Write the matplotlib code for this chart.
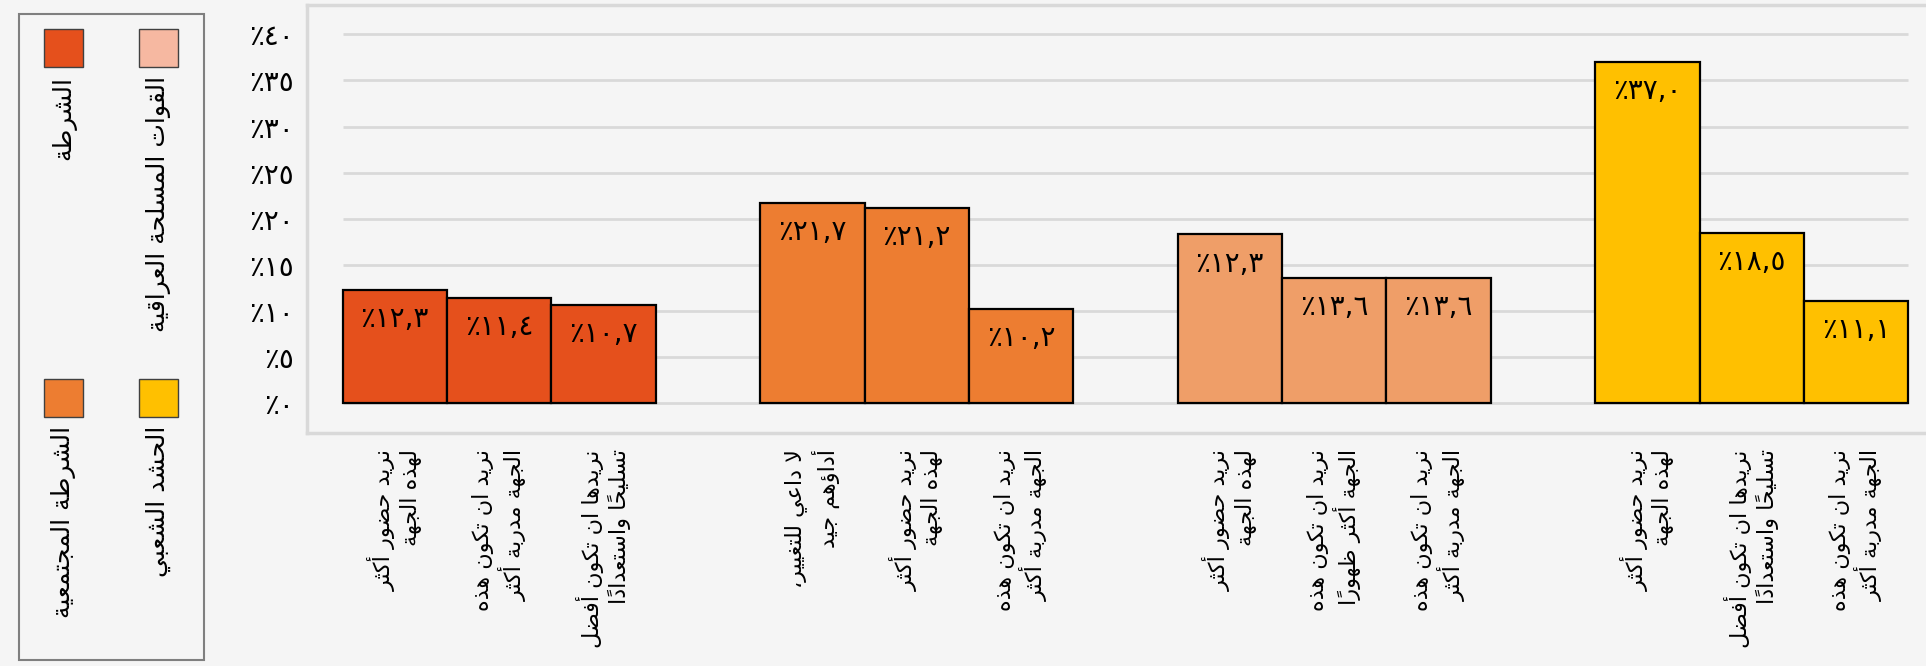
import numpy as np
import matplotlib
matplotlib.use("Agg")
import matplotlib.pyplot as plt
from matplotlib.patches import Rectangle
from matplotlib.ticker import FuncFormatter

# ---- data ----
groups = ["الشرطة", "الشرطة المجتمعية", "القوات المسلحة العراقية", "الحشد الشعبي"]
bar_colors = ["#E5501C", "#ED7D31", "#EF9E68", "#FFC000"]
legend_colors = ["#E5501C", "#ED7D31", "#F6B8A1", "#FFC000"]

police_vals = [12.3, 11.4, 10.7]
community_vals = [21.7, 21.2, 10.2]
army_vals = [18.3, 13.6, 13.6]
pmf_vals = [37.0, 18.5, 11.1]

# printed labels (the first army bar is printed as 12.3 in the source)
police_lbl = [12.3, 11.4, 10.7]
community_lbl = [21.7, 21.2, 10.2]
army_lbl = [12.3, 13.6, 13.6]
pmf_lbl = [37.0, 18.5, 11.1]

police_cats = ["نريد حضور أكثر\nلهذه الجهة",
               "نريد ان تكون هذه\nالجهة مدربة أكثر",
               "نريدها ان تكون أفضل\nتسليحاً واستعداداً"]
community_cats = ["لا داعي للتغيير،\nأداؤهم جيد",
                  "نريد حضور أكثر\nلهذه الجهة",
                  "نريد ان تكون هذه\nالجهة مدربة أكثر"]
army_cats = ["نريد حضور أكثر\nلهذه الجهة",
             "نريد ان تكون هذه\nالجهة أكثر ظهوراً",
             "نريد ان تكون هذه\nالجهة مدربة أكثر"]
pmf_cats = ["نريد حضور أكثر\nلهذه الجهة",
            "نريدها ان تكون أفضل\nتسليحاً واستعداداً",
            "نريد ان تكون هذه\nالجهة مدربة أكثر"]

y_ticks = [0, 5, 10, 15, 20, 25, 30, 35, 40]

# ---- minimal arabic shaping (matplotlib has no bidi / joining) ----
_LETTERS = "ءآأؤإئابةتثجحخدذرزسشصضطظعغفقكلمنهوىي"
_NFORMS = [1, 2, 2, 2, 2, 4, 2, 4, 2, 4, 4, 4, 4, 4, 2, 2, 2, 2,
           4, 4, 4, 4, 4, 4, 4, 4, 4, 4, 4, 4, 4, 4, 4, 2, 2, 4]
FORMS = {}
_code = 0xFE80
for _ch, _n in zip(_LETTERS, _NFORMS):
    FORMS[_ch] = [chr(_code + k) for k in range(_n)]
    _code += _n
LAM_ALEF = {"آ": 0xFEF5, "أ": 0xFEF7, "إ": 0xFEF9, "ا": 0xFEFB}


def is_mark(c):
    return "\u064B" <= c <= "\u0652" or c == "\u0670"


def jtype(base):
    if len(base) == 2:  # lam-alef
        return "R"
    f = FORMS.get(base)
    if f is None or len(f) == 1:
        return "U"
    return "D" if len(f) == 4 else "R"


def shape_line(line):
    clusters = []
    for c in line:
        if is_mark(c) and clusters:
            clusters[-1][1] += c
        else:
            clusters.append([c, ""])
    merged = []
    i = 0
    while i < len(clusters):
        b, m = clusters[i]
        if b == "ل" and i + 1 < len(clusters) and clusters[i + 1][0] in LAM_ALEF:
            merged.append(["ل" + clusters[i + 1][0], m + clusters[i + 1][1]])
            i += 2
        else:
            merged.append([b, m])
            i += 1
    types = [jtype(b) for b, _ in merged]
    out = []
    for k, (b, m) in enumerate(merged):
        t = types[k]
        prev_j = k > 0 and types[k - 1] == "D"
        next_j = k + 1 < len(merged) and types[k + 1] in ("D", "R")
        if t == "U":
            g = b
        elif len(b) == 2:
            g = chr(LAM_ALEF[b[1]] + (1 if prev_j else 0))
        elif t == "R":
            g = FORMS[b][1 if prev_j else 0]
        else:
            if prev_j and next_j:
                g = FORMS[b][3]
            elif prev_j:
                g = FORMS[b][1]
            elif next_j:
                g = FORMS[b][2]
            else:
                g = FORMS[b][0]
        out.append(g + m)
    return "".join(out[::-1])


def ar(text):
    return "\n".join(shape_line(l) for l in text.split("\n"))


AR_DIGITS = str.maketrans("0123456789", "٠١٢٣٤٥٦٧٨٩")


def pct(v, dec=1):
    return "٪" + f"{v:.{dec}f}".replace(".", ",").translate(AR_DIGITS)


# ---- plot ----
plt.rcParams['font.family'] = ['DejaVu Sans']
bg = "#F5F5F5"
fig = plt.figure(figsize=(19.26, 6.66), dpi=100, facecolor=bg)
ax = fig.add_axes([0.1592, 0.3503, 0.8408, 0.6422], facecolor=bg)

all_vals = [police_vals, community_vals, army_vals, pmf_vals]
all_lbls = [police_lbl, community_lbl, army_lbl, pmf_lbl]
all_cats = [police_cats, community_cats, army_cats, pmf_cats]

ax.hlines(y_ticks, -0.5, 14.5, colors="#D9D9D9", linewidth=2, zorder=0)

xpos = []
xlabels = []
for g in range(4):
    x = np.arange(3) + g * 4
    bars = ax.bar(x, all_vals[g], width=1.0, color=bar_colors[g],
                  edgecolor="black", linewidth=1.6, zorder=2)
    for b, lv in zip(bars, all_lbls[g]):
        ax.annotate(pct(lv), (b.get_x() + b.get_width() / 2, b.get_height()),
                    xytext=(0, -21), textcoords="offset points",
                    ha="center", va="center", fontsize=20, zorder=3)
    xpos += list(x)
    xlabels += [ar(c) for c in all_cats[g]]

ax.set_xlim(-0.845, 14.67)
ax.set_ylim(-3.19, 43.18)
ax.set_yticks(y_ticks)
ax.yaxis.set_major_formatter(FuncFormatter(lambda v, p: pct(v, 0)))
ax.set_xticks(xpos)
ax.set_xticklabels(xlabels, rotation=90, ha="center", va="top",
                   multialignment="right", fontsize=16)
ax.tick_params(axis="both", length=0)
ax.tick_params(axis="y", pad=9, labelsize=20)
ax.tick_params(axis="x", pad=12)
for side in ["left", "top", "bottom"]:
    ax.spines[side].set_color("#D9D9D9")
    ax.spines[side].set_linewidth(2.5)
ax.spines["right"].set_visible(False)

# ---- legend (rotated, drawn by hand) ----
W, H = 1926.0, 666.0
fig.patches.append(Rectangle((19 / W, 1 - 660 / H), 185 / W, 646 / H,
                             transform=fig.transFigure, facecolor="none",
                             edgecolor="#7F7F7F", linewidth=1.5))
leg_slots = [(63.5, 29), (63.5, 379), (158.5, 29), (158.5, 379)]
for (cx, top), name, col in zip(leg_slots, groups, legend_colors):
    fig.patches.append(Rectangle(((cx - 19.5) / W, 1 - (top + 38) / H), 39 / W, 38 / H,
                                 transform=fig.transFigure, facecolor=col,
                                 edgecolor="#404040", linewidth=1))
    fig.text(cx / W, 1 - (top + 47) / H, ar(name), rotation=90,
             ha="center", va="top", fontsize=18)

fig.savefig("out.png", dpi=100, facecolor=bg)
